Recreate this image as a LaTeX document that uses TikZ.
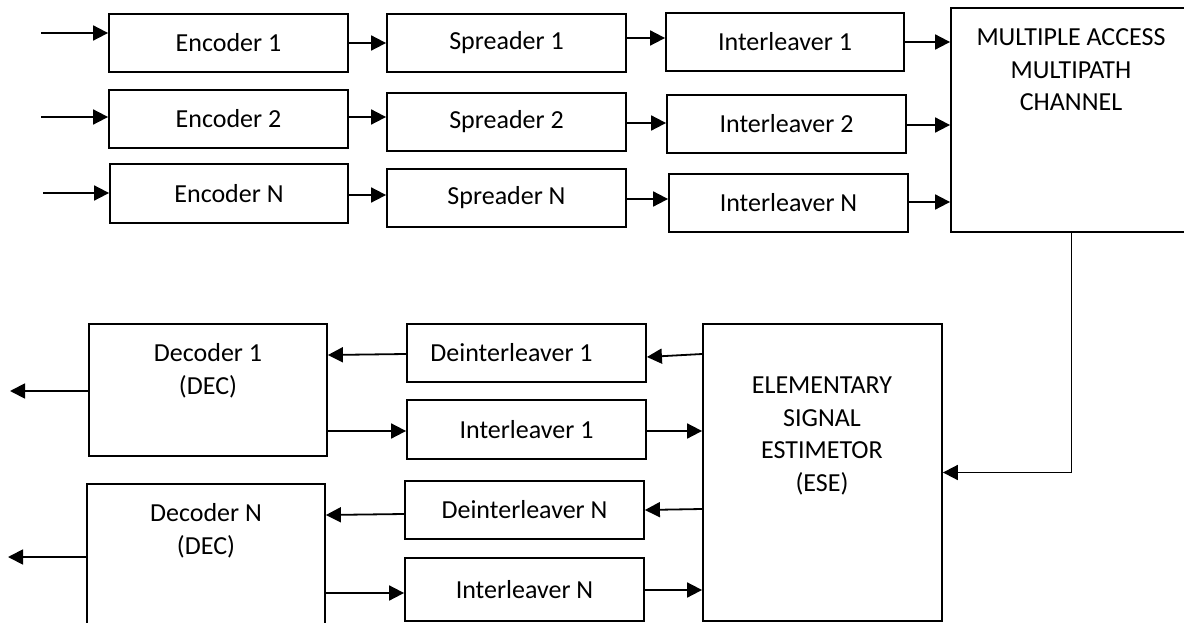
\documentclass[tikz,border=0pt]{standalone}
\usepackage{fontspec}
\setmainfont{Carlito}
\usetikzlibrary{arrows.meta}
\begin{document}
\begin{tikzpicture}[x=1pt,y=-1pt,
  box/.style={draw, line width=1.8pt, inner sep=0pt, align=center, font=\fontsize{26}{32.5}\selectfont},
  txt/.style={align=center, inner sep=0pt, font=\fontsize{26}{32.5}\selectfont},
  arr/.style={line width=1.8pt, -{Triangle[length=15pt,width=15pt]}},
  ln/.style={line width=1.8pt}]
\clip (0,0) rectangle (1184,623);
% transmitter rows
\node[box, minimum width=239pt, minimum height=58pt] (enc1) at (228.5,43) {Encoder 1};
\node[box, minimum width=239pt, minimum height=58pt] (enc2) at (228.5,119) {Encoder 2};
\node[box, minimum width=238pt, minimum height=59pt] (encN) at (229,193.5) {Encoder N};
\node[box, minimum width=239pt, minimum height=58pt] (spr1) at (506.5,43) {Spreader 1};
\node[box, minimum width=239pt, minimum height=58pt] (spr2) at (506.5,122) {Spreader 2};
\node[box, minimum width=239pt, minimum height=58pt] (sprN) at (506.5,198) {Spreader N};
\node[box, minimum width=238pt, minimum height=58pt] (int1) at (785,42) {Interleaver 1};
\node[box, minimum width=239pt, minimum height=58pt] (int2) at (786.5,124) {Interleaver 2};
\node[box, minimum width=239pt, minimum height=58pt] (intN) at (788.5,203) {Interleaver N};
\node[box, minimum width=241pt, minimum height=224pt] (chan) at (1071.5,120) {};
\node[txt] (chantxt) at (1071,70) {MULTIPLE ACCESS\\MULTIPATH\\CHANNEL};
% receiver
\node[box, minimum width=239pt, minimum height=297pt] (ese) at (822.5,472.5) {};
\node[txt] (esetxt) at (822,436) {ELEMENTARY\\SIGNAL\\ESTIMETOR\\(ESE)};
\node[box, minimum width=239pt, minimum height=58pt] (dint1) at (526.5,353) {Deinterleaver 1\hspace{30pt}};
\node[box, minimum width=239pt, minimum height=59pt] (rint1) at (526.5,429.5) {Interleaver 1};
\node[box, minimum width=239pt, minimum height=58pt] (dintN) at (524.5,510) {Deinterleaver N};
\node[box, minimum width=239pt, minimum height=63pt] (rintN) at (524.5,589.5) {Interleaver N};
\node[box, minimum width=238pt, minimum height=132pt] (dec1) at (208,390) {};
\node[txt] (dec1txt) at (208,371) {Decoder 1\\(DEC)};
\node[box, minimum width=238pt, minimum height=176pt] (decN) at (206,572) {};
\node[txt] (decNtxt) at (206,531) {Decoder N\\(DEC)};
% inputs
\coordinate (in1) at (41,33);
\coordinate (in2) at (41,117);
\coordinate (inN) at (43,193);
\draw[arr] (in1) -- (in1 -| enc1.west);
\draw[arr] (in2) -- (in2 -| enc2.west);
\draw[arr] (inN) -- (inN -| encN.west);
% encoder -> spreader
\draw[arr] (enc1.east |- 0,43) -- (spr1.west |- 0,43);
\draw[arr] (enc2.east |- 0,117) -- (spr2.west |- 0,117);
\draw[arr] (encN.east |- 0,195) -- (sprN.west |- 0,195);
% spreader -> interleaver
\draw[arr] (spr1.east |- 0,38) -- (int1.west |- 0,38);
\draw[arr] (spr2.east |- 0,123) -- (int2.west |- 0,123);
\draw[arr] (sprN.east |- 0,199) -- (intN.west |- 0,199);
% interleaver -> channel
\draw[arr] (int1.east |- 0,42) -- (chan.west |- 0,42);
\draw[arr] (int2.east |- 0,125) -- (chan.west |- 0,125);
\draw[arr] (intN.east |- 0,202) -- (chan.west |- 0,202);
% channel -> ESE
\draw[arr] (chan.south) |- (ese.east);
% ESE -> deinterleavers
\draw[arr] (ese.west |- 0,354) -- (dint1.east |- 0,357);
\draw[arr] (ese.west |- 0,509) -- (dintN.east |- 0,510);
% deinterleavers -> decoders
\draw[arr] (dint1.west |- 0,354) -- (dec1.east |- 0,355);
\draw[arr] (dintN.west |- 0,514) -- (decN.east |- 0,515);
% decoders -> interleavers
\draw[arr] (dec1.east |- 0,431) -- (rint1.west |- 0,431);
\draw[arr] (decN.east |- 0,593) -- (rintN.west |- 0,593);
% interleavers -> ESE
\draw[arr] (rint1.east |- 0,431) -- (ese.west |- 0,431);
\draw[arr] (rintN.east |- 0,590) -- (ese.west |- 0,590);
% outputs
\coordinate (out1) at (10,391);
\coordinate (outN) at (8,557);
\draw[arr] (dec1.west |- out1) -- (out1);
\draw[arr] (decN.west |- outN) -- (outN);
\end{tikzpicture}
\end{document}
